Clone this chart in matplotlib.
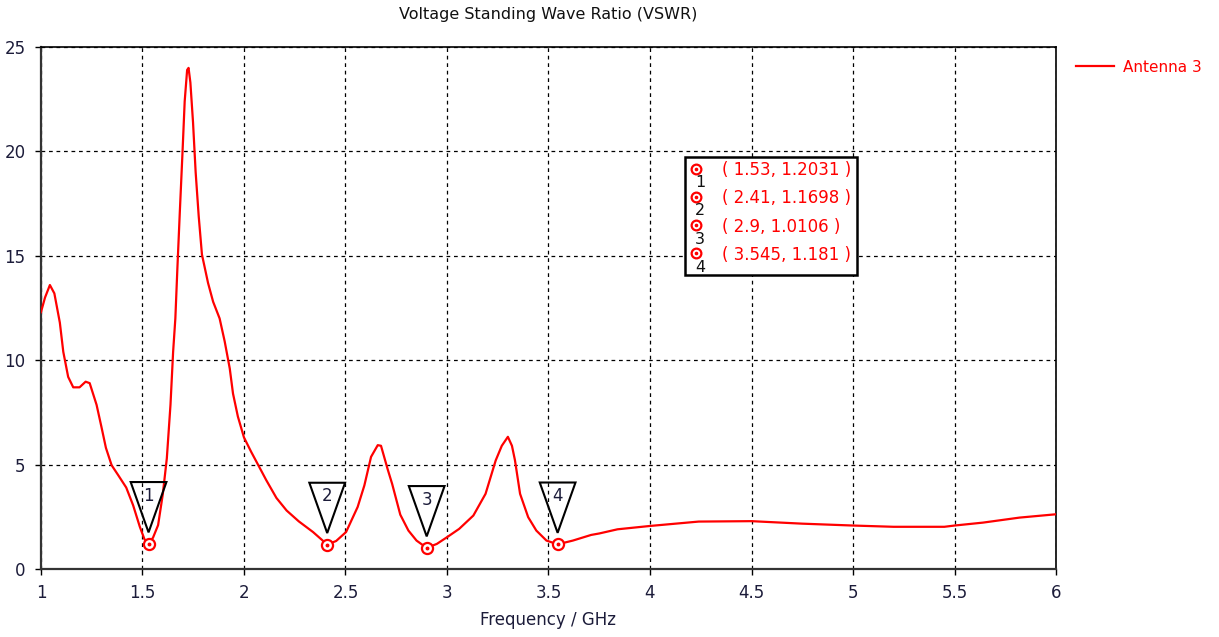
import numpy as np
import matplotlib
matplotlib.use("Agg")
import matplotlib.pyplot as plt
from matplotlib.patches import Polygon, Rectangle

# --- Data ---
freq_ghz = [1.00, 1.02, 1.044, 1.066, 1.093, 1.11, 1.134, 1.159, 1.19, 1.22,
            1.24, 1.274, 1.298, 1.32, 1.348, 1.38, 1.42, 1.454, 1.487, 1.51,
            1.53, 1.552, 1.577, 1.60, 1.62, 1.638, 1.651, 1.662, 1.672, 1.684,
            1.697, 1.708, 1.72, 1.727, 1.736, 1.749, 1.762, 1.777, 1.793, 1.823,
            1.848, 1.88, 1.905, 1.93, 1.946, 1.97, 2.00, 2.036, 2.069, 2.11,
            2.16, 2.21, 2.27, 2.34, 2.41, 2.454, 2.503, 2.56, 2.593, 2.626,
            2.659, 2.675, 2.708, 2.73, 2.77, 2.81, 2.85, 2.90, 2.95, 3.00,
            3.06, 3.13, 3.19, 3.24, 3.27, 3.30, 3.32, 3.335, 3.36, 3.40,
            3.44, 3.49, 3.545, 3.62, 3.71, 3.75, 3.84, 4.0, 4.24, 4.5,
            4.75, 5.0, 5.2, 5.45, 5.5, 5.64, 5.82, 6.0]
vswr = [12.3, 13.0, 13.6, 13.2, 11.8, 10.4, 9.2, 8.7, 8.7, 8.97,
        8.9, 7.86, 6.8, 5.8, 4.97, 4.5, 3.9, 3.05, 2.02, 1.42,
        1.2031, 1.5, 2.1, 3.57, 5.3, 7.86, 10.4, 12.0, 14.4, 17.1,
        19.9, 22.4, 23.9, 24.0, 23.3, 21.4, 19.0, 16.9, 15.06, 13.7,
        12.8, 12.0, 10.9, 9.6, 8.4, 7.3, 6.3, 5.6, 5.0, 4.25,
        3.4, 2.8, 2.28, 1.77, 1.1698, 1.34, 1.77, 2.97, 4.0, 5.37,
        5.93, 5.9, 4.77, 4.07, 2.6, 1.84, 1.36, 1.0106, 1.2, 1.52,
        1.92, 2.56, 3.6, 5.2, 5.9, 6.33, 5.9, 5.2, 3.6, 2.48,
        1.84, 1.36, 1.181, 1.36, 1.63, 1.7, 1.9, 2.06, 2.27, 2.29,
        2.17, 2.08, 2.02, 2.02, 2.08, 2.22, 2.46, 2.62]

marker_ids = ["1", "2", "3", "4"]
marker_freq = [1.53, 2.41, 2.9, 3.545]
marker_vswr = [1.2031, 1.1698, 1.0106, 1.181]
marker_text = ["( 1.53, 1.2031 )", "( 2.41, 1.1698 )", "( 2.9, 1.0106 )", "( 3.545, 1.181 )"]

x_ticks = [1, 1.5, 2, 2.5, 3, 3.5, 4, 4.5, 5, 5.5, 6]
x_ticklabels = ["1", "1.5", "2", "2.5", "3", "3.5", "4", "4.5", "5", "5.5", "6"]
y_ticks = [0, 5, 10, 15, 20, 25]

RED = "#ff0000"
TICK_COLOR = "#1c1c3a"

plt.rcParams["font.family"] = ["DejaVu Sans"]

fig = plt.figure(figsize=(12.19, 6.37), dpi=100)
ax = fig.add_axes([0.0336, 0.1068, 0.8327, 0.8194])

ax.plot(freq_ghz, vswr, color=RED, lw=1.6, label="Antenna 3", zorder=3)

# marker rings on the curve
ax.plot(marker_freq, marker_vswr, ls="none", marker="o", ms=8, mfc="white",
        mec=RED, mew=1.6, zorder=4)
ax.plot(marker_freq, marker_vswr, ls="none", marker="o", ms=1.8, color=RED, zorder=5)

# inverted triangle flags above the markers
tri_half_w = 0.088
for mid, f, v in zip(marker_ids, marker_freq, marker_vswr):
    top = v + 2.96
    tip = v + 0.55
    ax.add_patch(Polygon([[f - tri_half_w, top], [f + tri_half_w, top], [f, tip]],
                         closed=True, fill=False, ec="black", lw=1.5, zorder=6))
    ax.text(f, top - 0.65, mid, ha="center", va="center", fontsize=12,
            color=TICK_COLOR, zorder=7)

ax.set_xlim(1, 6)
ax.set_ylim(0, 25)
ax.set_xticks(x_ticks)
ax.set_xticklabels(x_ticklabels)
ax.set_yticks(y_ticks)
ax.tick_params(axis="both", direction="out", length=4, width=1, labelsize=12,
               labelcolor=TICK_COLOR, pad=7)
ax.grid(True, color="black", ls=(0, (3, 3)), lw=0.9)
for side in ["top", "right"]:
    ax.spines[side].set_linewidth(1.2)
for side in ["left", "bottom"]:
    ax.spines[side].set_linewidth(1.6)
    ax.spines[side].set_color("#333333")

ax.set_title("Voltage Standing Wave Ratio (VSWR)", fontsize=11.5, pad=20,
             color="#111111")
ax.set_xlabel("Frequency / GHz", fontsize=12, color=TICK_COLOR, labelpad=6)

# marker readout box
box = Rectangle((0.6345, 0.563), 0.1695, 0.226, transform=ax.transAxes,
                fc="white", ec="black", lw=1.8, zorder=8)
ax.add_patch(box)
row_y = [0.767, 0.713, 0.659, 0.605]
for mid, txt, ry in zip(marker_ids, marker_text, row_y):
    ax.plot([0.6453], [ry], transform=ax.transAxes, ls="none", marker="o", ms=7,
            mfc="white", mec=RED, mew=1.6, zorder=9)
    ax.plot([0.6453], [ry], transform=ax.transAxes, ls="none", marker="o", ms=1.6,
            color=RED, zorder=10)
    ax.text(0.6495, ry - 0.027, mid, transform=ax.transAxes, ha="center", va="center",
            fontsize=11.5, color="#111111", zorder=10)
    ax.text(0.671, ry - 0.003, txt, transform=ax.transAxes, ha="left", va="center",
            fontsize=12, color=RED, zorder=10)

leg = ax.legend(loc="upper left", bbox_to_anchor=(1.006, 1.002), frameon=False,
                fontsize=11, handlelength=2.5, handletextpad=0.6)
for t in leg.get_texts():
    t.set_color(RED)

fig.savefig("out.png", dpi=100)
